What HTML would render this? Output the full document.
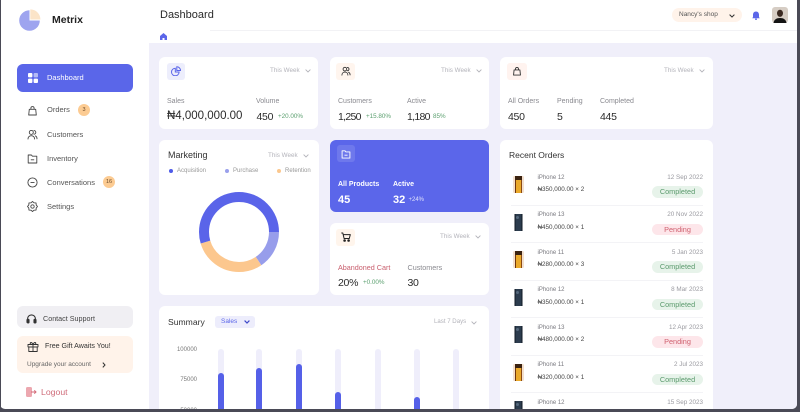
<!DOCTYPE html>
<html><head><meta charset="utf-8">
<style>
*{margin:0;padding:0;box-sizing:border-box}
html,body{width:800px;height:412px;overflow:hidden;background:#4a4a56}
#root{position:relative;width:800px;height:412px;overflow:hidden;background:#4a4a56;font-family:"Liberation Sans","DejaVu Sans",sans-serif}
#page{position:absolute;left:0;top:0;width:797px;height:409px;background:#fff;border-radius:0 0 5px 5px;overflow:hidden}
.a{position:absolute}
.t{position:absolute;white-space:nowrap;line-height:1}
.card{position:absolute;background:#fff;border-radius:6px}
.lbl{font-size:7px;color:#8a8a90}
.val{font-size:11.5px;color:#2b2b2b}
.vs{font-size:10.5px;letter-spacing:-0.3px;color:#2b2b2b}
.wk{font-size:6.3px;color:#b3b3ba}
.grn{font-size:6.3px;color:#5a9f6e}
.menu{font-size:7.5px;color:#555}
.ib{position:absolute;border-radius:3px}
.nm{font-size:6px;color:#7a7a80}
.pr{font-size:6.3px;color:#444}
.dt{font-size:6.3px;color:#9a9aa0}
.bdg{position:absolute;width:51px;height:11.6px;border-radius:6px;font-size:7.3px;line-height:11.6px;text-align:center}
.cp{background:#E7F3EA;color:#5a9a6c}
.pd{background:#FDE6EA;color:#D0606F}
.dv{position:absolute;left:511px;width:192px;height:1px;background:#F3F3F6}
.gold{position:absolute;width:11px;height:17px;border-radius:1.5px;background:linear-gradient(90deg,#f3dfcd 0 18%,#6e350e 18% 28%,#eaa92a 28% 72%,#8a4a12 72% 82%,#f3dfcd 82%)}
.gold:after{content:"";position:absolute;left:2px;top:0;width:7px;height:4px;background:#3a2210}
.dark{position:absolute;width:11px;height:17px;border-radius:1.5px;background:linear-gradient(90deg,#fff 0 12%,#111a24 12% 22%,#2c3c4e 22% 78%,#111a24 78% 88%,#fff 88%)}
.dark:after{content:"";position:absolute;left:3px;top:2px;width:3px;height:3px;border-radius:50%;background:#55687c}
.trk{position:absolute;width:6px;top:348.5px;height:60.5px;border-radius:3px 3px 0 0;background:#EFEEFB}
.bar{position:absolute;width:6px;border-radius:3px 3px 0 0;background:#5560E8}
</style></head>
<body><div id="root"><div id="page">

<div class="a" style="left:149px;top:43px;width:648px;height:366px;background:#F0EFFA"></div>
<div class="a" style="left:210px;top:30px;width:587px;height:1px;background:#F2F2F5"></div>

<!-- SIDEBAR -->
<svg class="a" style="left:18px;top:9px" width="24" height="24" viewBox="0 0 24 24">
<path d="M11.5 11.5 L11.5 1.2 A10.3 10.3 0 1 0 21.8 11.5 Z" fill="#9EA4EF"/>
<path d="M12.3 10.5 L12.3 0.4 A10.1 10.1 0 0 1 22.4 10.5 Z" fill="#FBE4C8"/>
</svg>
<div class="t" style="left:52px;top:14.75px;font-size:10.5px;font-weight:bold;color:#222">Metrix</div>

<div class="a" style="left:17px;top:64px;width:116px;height:28px;background:#5A66E9;border-radius:6px"></div>
<svg class="a" style="left:28px;top:73px" width="10" height="10" viewBox="0 0 10 10">
<rect x="0" y="0" width="4.4" height="4.4" rx="1" fill="#fff"/>
<rect x="5.6" y="0" width="4.4" height="4.4" rx="1" fill="#fff" opacity=".55"/>
<rect x="0" y="5.6" width="4.4" height="4.4" rx="1" fill="#fff"/>
<rect x="5.6" y="5.6" width="4.4" height="4.4" rx="1" fill="#fff"/>
</svg>
<div class="t" style="left:47px;top:74.25px;font-size:7.5px;color:#fff">Dashboard</div>

<svg class="a" style="left:27px;top:104.5px" width="11" height="11" viewBox="0 0 11 11" fill="none" stroke="#444" stroke-width=".9" stroke-linejoin="round">
<path d="M2.3 4.3h6.4l.6 5.7H1.7z"/><path d="M3.9 4.3V3.2a1.6 1.6 0 0 1 3.2 0v1.1"/></svg>
<div class="t menu" style="left:47px;top:106.25px">Orders</div>
<div class="a" style="left:78px;top:104px;width:12px;height:12px;border-radius:6px;background:#FCCB92;font-size:5.5px;line-height:12px;text-align:center;color:#6a4a2a">3</div>

<svg class="a" style="left:27px;top:128.8px" width="11" height="11" viewBox="0 0 11 11" fill="none" stroke="#444" stroke-width=".9" stroke-linecap="round">
<circle cx="4.3" cy="3.4" r="2"/><path d="M1 10c0-2 1.5-3.3 3.3-3.3S7.6 8 7.6 10"/><path d="M7 1.6a1.8 1.8 0 0 1 0 3.6M8.4 6.9c1 .4 1.6 1.5 1.6 2.9"/></svg>
<div class="t menu" style="left:47px;top:130.5px">Customers</div>

<svg class="a" style="left:27px;top:152.8px" width="11" height="11" viewBox="0 0 11 11" fill="none" stroke="#444" stroke-width=".9" stroke-linejoin="round">
<path d="M1.2 2h3.2l1 1.2h4.4v6.8H1.2z"/><path d="M3.8 6.8h3.4"/></svg>
<div class="t menu" style="left:47px;top:154.5px">Inventory</div>

<svg class="a" style="left:27px;top:176.8px" width="11" height="11" viewBox="0 0 11 11" fill="none" stroke="#444" stroke-width=".9">
<circle cx="5.5" cy="5.5" r="4.6"/><path d="M3.5 5.5h4"/></svg>
<div class="t menu" style="left:47px;top:178.5px">Conversations</div>
<div class="a" style="left:103px;top:176px;width:12px;height:12px;border-radius:6px;background:#FCCB92;font-size:5.5px;line-height:12px;text-align:center;color:#6a4a2a">16</div>

<svg class="a" style="left:27px;top:200.8px" width="11" height="11" viewBox="0 0 11 11" fill="none" stroke="#444" stroke-width=".9" stroke-linejoin="round">
<polygon points="10.5,5.5 9.2,7.03 9.04,9.04 7.03,9.2 5.5,10.5 3.97,9.2 1.96,9.04 1.8,7.03 0.5,5.5 1.8,3.97 1.96,1.96 3.97,1.8 5.5,0.5 7.03,1.8 9.04,1.96 9.2,3.97"/>
<circle cx="5.5" cy="5.5" r="1.7"/></svg>
<div class="t menu" style="left:47px;top:202.5px">Settings</div>

<div class="a" style="left:17px;top:306px;width:116px;height:22px;background:#F0EFF3;border-radius:6px"></div>
<svg class="a" style="left:26px;top:313px" width="11" height="11" viewBox="0 0 11 11" fill="none" stroke="#333" stroke-width="1.1">
<path d="M1.6 8V5.8a3.9 3.9 0 0 1 7.8 0V8"/><rect x="1" y="6.3" width="2" height="3.6" rx=".8" fill="#333"/><rect x="8" y="6.3" width="2" height="3.6" rx=".8" fill="#333"/></svg>
<div class="t" style="left:43px;top:314.7px;font-size:7.2px;color:#444">Contact Support</div>

<div class="a" style="left:17px;top:335.5px;width:116px;height:37.5px;background:#FFF3EA;border-radius:6px"></div>
<svg class="a" style="left:27px;top:341px" width="12" height="11" viewBox="0 0 12 11" fill="none" stroke="#333" stroke-width=".9" stroke-linejoin="round">
<rect x="1" y="3.5" width="10" height="2.4"/><rect x="1.8" y="5.9" width="8.4" height="4.6"/><path d="M6 3.5v7"/>
<path d="M6 3.5C5 1 3 .9 3.2 2.5 3.4 3.5 6 3.5 6 3.5M6 3.5C7 1 9 .9 8.8 2.5 8.6 3.5 6 3.5 6 3.5"/></svg>
<div class="t" style="left:45px;top:343px;font-size:7.1px;color:#333">Free Gift Awaits You!</div>
<div class="t" style="left:27px;top:361.5px;font-size:6.5px;color:#666">Upgrade your account</div>
<svg class="a" style="left:101.5px;top:362px" width="4" height="6" viewBox="0 0 4 6"><path d="M.8.6L3 3 .8 5.4" fill="none" stroke="#333" stroke-width="1"/></svg>

<svg class="a" style="left:26px;top:387px" width="11" height="10" viewBox="0 0 11 10">
<rect x="0" y="0" width="6" height="10" rx="1.5" fill="#ECA7AF"/>
<path d="M5 5h5M8.3 3.3L10 5 8.3 6.7" fill="none" stroke="#D36A78" stroke-width="1"/></svg>
<div class="t" style="left:41px;top:387.6px;font-size:8.7px;color:#CF6C7A">Logout</div>

<!-- HEADER -->
<div class="t" style="left:160px;top:9.5px;font-size:11px;color:#2a2a2a">Dashboard</div>
<svg class="a" style="left:160px;top:33px" width="7" height="7" viewBox="0 0 7 7"><path d="M3.5 0L7 3V7H4.5V5H2.5V7H0V3z" fill="#5B66E9"/></svg>
<div class="a" style="left:672px;top:8px;width:70px;height:14px;background:#FFF3EA;border-radius:7px"></div>
<div class="t" style="left:679px;top:11.75px;font-size:6.5px;color:#555">Nancy's shop</div>
<svg class="a" style="left:729px;top:13.5px" width="6" height="4" viewBox="0 0 6 4"><path d="M.6.6L3 3 5.4.6" fill="none" stroke="#333" stroke-width="1"/></svg>
<svg class="a" style="left:752px;top:11px" width="8" height="9" viewBox="0 0 8 9"><path d="M4 .5c-1.8 0-3 1.4-3 3.2V6L.3 7.3h7.4L7 6V3.7C7 1.9 5.8.5 4 .5z" fill="#5B66E9"/><circle cx="4" cy="8.2" r=".9" fill="#5B66E9"/></svg>
<svg class="a" style="left:772px;top:7px" width="16" height="16" viewBox="0 0 16 16">
<rect width="16" height="16" rx="3" fill="#d6cdc4"/><ellipse cx="8" cy="6.3" rx="3" ry="3.6" fill="#3b2a22"/><path d="M1.5 16c.5-3.5 3-5 6.5-5s6 1.5 6.5 5z" fill="#141414"/></svg>

<!-- ROW 1 CARDS -->
<div class="card" style="left:159px;top:57px;width:159px;height:72px"></div>
<div class="ib" style="left:167px;top:62.5px;width:18px;height:17px;background:#EDEEFC"></div>
<svg class="a" style="left:171px;top:66px" width="10" height="10" viewBox="0 0 10 10" fill="none" stroke="#5B66E9" stroke-width="1"><path d="M4.3 2.2A3.8 3.8 0 1 0 8.1 6H4.3z"/><path d="M5.8 .8v3.7h3.7A3.7 3.7 0 0 0 5.8 .8z"/></svg>
<div class="t wk" style="left:270px;top:67.5px">This Week</div>
<svg class="a" style="left:304.5px;top:69px" width="6" height="4" viewBox="0 0 6 4"><path d="M.6.6L3 3 5.4.6" fill="none" stroke="#b3b3ba" stroke-width=".9"/></svg>
<div class="t lbl" style="left:167px;top:97.5px">Sales</div>
<div class="t lbl" style="left:256px;top:97.5px">Volume</div>
<div class="t val" style="left:167px;top:111px">₦4,000,000.00</div>
<div class="t vs" style="left:256.5px;top:111.5px">450</div>
<div class="t grn" style="left:278px;top:113.5px">+20.00%</div>

<div class="card" style="left:330px;top:57px;width:159px;height:72px"></div>
<div class="ib" style="left:336px;top:62.5px;width:19px;height:17px;background:#FFF5EE"></div>
<svg class="a" style="left:340.5px;top:66px" width="10" height="10" viewBox="0 0 11 11" fill="none" stroke="#333" stroke-width="1" stroke-linecap="round"><circle cx="4.3" cy="3.4" r="2"/><path d="M1 10c0-2 1.5-3.3 3.3-3.3S7.6 8 7.6 10"/><path d="M7 1.6a1.8 1.8 0 0 1 0 3.6M8.4 6.9c1 .4 1.6 1.5 1.6 2.9"/></svg>
<div class="t wk" style="left:441px;top:67.5px">This Week</div>
<svg class="a" style="left:475.5px;top:69px" width="6" height="4" viewBox="0 0 6 4"><path d="M.6.6L3 3 5.4.6" fill="none" stroke="#b3b3ba" stroke-width=".9"/></svg>
<div class="t lbl" style="left:338px;top:97.5px">Customers</div>
<div class="t lbl" style="left:407px;top:97.5px">Active</div>
<div class="t vs" style="left:338px;top:111.5px;letter-spacing:-0.7px">1,250</div>
<div class="t grn" style="left:366px;top:113.5px">+15.80%</div>
<div class="t vs" style="left:407px;top:111.5px;letter-spacing:-0.7px">1,180</div>
<div class="t grn" style="left:433px;top:113.5px">85%</div>

<div class="card" style="left:500px;top:57px;width:213px;height:72px"></div>
<div class="ib" style="left:507px;top:62.5px;width:20px;height:17px;background:#FFF3EF"></div>
<svg class="a" style="left:512px;top:65.5px" width="10" height="10" viewBox="0 0 11 11" fill="none" stroke="#333" stroke-width="1" stroke-linejoin="round"><path d="M2.3 4.3h6.4l.6 5.7H1.7z"/><path d="M3.9 4.3V3.2a1.6 1.6 0 0 1 3.2 0v1.1"/></svg>
<div class="t wk" style="left:664px;top:67.5px">This Week</div>
<svg class="a" style="left:698.5px;top:69px" width="6" height="4" viewBox="0 0 6 4"><path d="M.6.6L3 3 5.4.6" fill="none" stroke="#b3b3ba" stroke-width=".9"/></svg>
<div class="t lbl" style="left:508px;top:97.5px">All Orders</div>
<div class="t lbl" style="left:557px;top:97.5px">Pending</div>
<div class="t lbl" style="left:600px;top:97.5px">Completed</div>
<div class="t vs" style="left:508px;top:111.5px">450</div>
<div class="t vs" style="left:557px;top:111.5px">5</div>
<div class="t vs" style="left:600px;top:111.5px">445</div>

<!-- MARKETING -->
<div class="card" style="left:159px;top:140px;width:160px;height:155px"></div>
<div class="t" style="left:168px;top:151.2px;font-size:9px;color:#333">Marketing</div>
<div class="t wk" style="left:268px;top:152.5px">This Week</div>
<svg class="a" style="left:302.5px;top:154px" width="6" height="4" viewBox="0 0 6 4"><path d="M.6.6L3 3 5.4.6" fill="none" stroke="#b3b3ba" stroke-width=".9"/></svg>
<div class="a" style="left:169px;top:168.7px;width:4px;height:4px;border-radius:2px;background:#4E5BE8"></div>
<div class="t" style="left:177px;top:167.7px;font-size:6px;color:#999">Acquisition</div>
<div class="a" style="left:224.5px;top:168.7px;width:4px;height:4px;border-radius:2px;background:#9AA0EC"></div>
<div class="t" style="left:233px;top:167.7px;font-size:6px;color:#999">Purchase</div>
<div class="a" style="left:276.5px;top:168.7px;width:4px;height:4px;border-radius:2px;background:#FBC78D"></div>
<div class="t" style="left:285px;top:167.7px;font-size:6px;color:#999">Retention</div>
<svg class="a" style="left:199px;top:192px" width="80" height="80" viewBox="0 0 80 80" fill="none" stroke-width="10">
<circle cx="40" cy="40" r="35" stroke="#979DEB" stroke-dasharray="34.2 219.9" stroke-dashoffset="0"/>
<circle cx="40" cy="40" r="35" stroke="#FCC78E" stroke-dasharray="65.4 219.9" stroke-dashoffset="-34.2"/>
<circle cx="40" cy="40" r="35" stroke="#5A64E9" stroke-dasharray="120.3 219.9" stroke-dashoffset="-99.6"/>
</svg>

<!-- ALL PRODUCTS -->
<div class="card" style="left:330px;top:140px;width:159px;height:72px;background:#5B66EA"></div>
<div class="ib" style="left:337px;top:145px;width:18px;height:17px;background:#6E78EC"></div>
<svg class="a" style="left:341px;top:148.5px" width="10" height="10" viewBox="0 0 11 11" fill="none" stroke="#fff" stroke-width="1" stroke-linejoin="round"><path d="M1.2 2h3.2l1 1.2h4.4v6.8H1.2z"/><path d="M3.8 6.8h3.4"/></svg>
<div class="t" style="left:338px;top:180.8px;font-size:7px;font-weight:bold;color:#fff">All Products</div>
<div class="t" style="left:393px;top:180.8px;font-size:7px;font-weight:bold;color:#fff">Active</div>
<div class="t" style="left:338px;top:194.5px;font-size:11px;font-weight:bold;color:#fff">45</div>
<div class="t" style="left:393px;top:194.5px;font-size:11px;font-weight:bold;color:#fff">32</div>
<div class="t" style="left:408.5px;top:197px;font-size:6px;color:#dfe1fb">+24%</div>

<!-- ABANDONED CART -->
<div class="card" style="left:330px;top:223px;width:159px;height:72px"></div>
<div class="ib" style="left:336px;top:229px;width:19px;height:16.5px;background:#FFF5EC"></div>
<svg class="a" style="left:340.5px;top:232px" width="10" height="10" viewBox="0 0 10 10" fill="none" stroke="#222" stroke-width="1" stroke-linejoin="round"><path d="M.3 1h1.5l1.3 5.5h5.2L9.3 2.6H2.4"/><circle cx="3.6" cy="8.5" r=".8" fill="#222"/><circle cx="7.6" cy="8.5" r=".8" fill="#222"/></svg>
<div class="t wk" style="left:440px;top:233.8px">This Week</div>
<svg class="a" style="left:474.5px;top:235.3px" width="6" height="4" viewBox="0 0 6 4"><path d="M.6.6L3 3 5.4.6" fill="none" stroke="#b3b3ba" stroke-width=".9"/></svg>
<div class="t" style="left:338px;top:263.7px;font-size:7.2px;color:#C9606F">Abandoned Cart</div>
<div class="t lbl" style="left:407.5px;top:263.7px;font-size:7.2px">Customers</div>
<div class="t vs" style="left:338px;top:277.5px">20%</div>
<div class="t grn" style="left:363px;top:279.5px">+0.00%</div>
<div class="t vs" style="left:407.5px;top:277.5px">30</div>

<!-- SUMMARY -->
<div class="card" style="left:159px;top:306px;width:330px;height:103px;border-radius:6px 6px 0 0"></div>
<div class="t" style="left:168px;top:317.7px;font-size:8.6px;color:#333">Summary</div>
<div class="a" style="left:215px;top:316px;width:40px;height:12px;background:#EDEDFC;border-radius:3px"></div>
<div class="t" style="left:221px;top:318.8px;font-size:6.5px;color:#5B66E9">Sales</div>
<svg class="a" style="left:243.5px;top:320px" width="6" height="4" viewBox="0 0 6 4"><path d="M.6.6L3 3 5.4.6" fill="none" stroke="#3b46c9" stroke-width="1.2"/></svg>
<div class="t wk" style="left:434px;top:319px;font-size:6.1px">Last 7 Days</div>
<svg class="a" style="left:470.5px;top:320.5px" width="6" height="4" viewBox="0 0 6 4"><path d="M.6.6L3 3 5.4.6" fill="none" stroke="#b3b3ba" stroke-width=".9"/></svg>
<div class="t" style="right:600px;top:347px;font-size:6px;color:#777">100000</div>
<div class="t" style="right:600px;top:377.3px;font-size:6px;color:#777">75000</div>
<div class="a" style="left:170px;top:405px;width:28px;height:4px;overflow:hidden">
<div class="t" style="right:1px;top:2.5px;font-size:6px;color:#777">50000</div></div>

<div class="trk" style="left:217.7px"></div><div class="bar" style="left:217.7px;top:372.7px;height:36.3px"></div>
<div class="trk" style="left:256.3px"></div><div class="bar" style="left:256.3px;top:367.7px;height:41.3px"></div>
<div class="trk" style="left:296px"></div><div class="bar" style="left:296px;top:364px;height:45px"></div>
<div class="trk" style="left:335.3px"></div><div class="bar" style="left:335.3px;top:392px;height:17px"></div>
<div class="trk" style="left:374.7px"></div>
<div class="trk" style="left:414px"></div><div class="bar" style="left:414px;top:397px;height:12px"></div>
<div class="trk" style="left:453.3px"></div>

<!-- RECENT ORDERS -->
<div class="card" style="left:500px;top:140px;width:213px;height:269px;border-radius:6px 6px 0 0"></div>
<div class="t" style="left:509px;top:150.8px;font-size:8.5px;color:#333">Recent Orders</div>

<div class="gold" style="left:513px;top:176px"></div>
<div class="t nm" style="left:537.5px;top:174.7px">iPhone 12</div>
<div class="t pr" style="left:537.5px;top:187.2px">₦350,000.00 × 2</div>
<div class="t dt" style="right:94px;top:174.5px">12 Sep 2022</div>
<div class="bdg cp" style="left:652px;top:186.4px">Completed</div>
<div class="dv" style="top:204.7px"></div>

<div class="dark" style="left:513px;top:213.5px"></div>
<div class="t nm" style="left:537.5px;top:212.2px">iPhone 13</div>
<div class="t pr" style="left:537.5px;top:224.7px">₦450,000.00 × 1</div>
<div class="t dt" style="right:94px;top:212px">20 Nov 2022</div>
<div class="bdg pd" style="left:652px;top:223.9px">Pending</div>
<div class="dv" style="top:242.2px"></div>

<div class="gold" style="left:513px;top:251px"></div>
<div class="t nm" style="left:537.5px;top:249.7px">iPhone 11</div>
<div class="t pr" style="left:537.5px;top:262.2px">₦280,000.00 × 3</div>
<div class="t dt" style="right:94px;top:249.5px">5 Jan 2023</div>
<div class="bdg cp" style="left:652px;top:261.4px">Completed</div>
<div class="dv" style="top:279.7px"></div>

<div class="dark" style="left:513px;top:288.5px"></div>
<div class="t nm" style="left:537.5px;top:287.2px">iPhone 12</div>
<div class="t pr" style="left:537.5px;top:299.7px">₦350,000.00 × 1</div>
<div class="t dt" style="right:94px;top:287px">8 Mar 2023</div>
<div class="bdg cp" style="left:652px;top:298.9px">Completed</div>
<div class="dv" style="top:317.2px"></div>

<div class="dark" style="left:513px;top:326px"></div>
<div class="t nm" style="left:537.5px;top:324.7px">iPhone 13</div>
<div class="t pr" style="left:537.5px;top:337.2px">₦480,000.00 × 2</div>
<div class="t dt" style="right:94px;top:324.5px">12 Apr 2023</div>
<div class="bdg pd" style="left:652px;top:336.4px">Pending</div>
<div class="dv" style="top:354.7px"></div>

<div class="gold" style="left:513px;top:363.5px"></div>
<div class="t nm" style="left:537.5px;top:362.2px">iPhone 11</div>
<div class="t pr" style="left:537.5px;top:374.7px">₦320,000.00 × 1</div>
<div class="t dt" style="right:94px;top:362px">2 Jul 2023</div>
<div class="bdg cp" style="left:652px;top:373.9px">Completed</div>
<div class="dv" style="top:392.2px"></div>

<div class="dark" style="left:513px;top:401px;height:8px;border-radius:1.5px 1.5px 0 0"></div>
<div class="t nm" style="left:537.5px;top:399.7px">iPhone 12</div>
<div class="t dt" style="right:94px;top:399.5px">15 Sep 2023</div>

</div>
<div class="a" style="left:0;top:0;width:1px;height:412px;background:#4a4a56"></div>
</div></body></html>
